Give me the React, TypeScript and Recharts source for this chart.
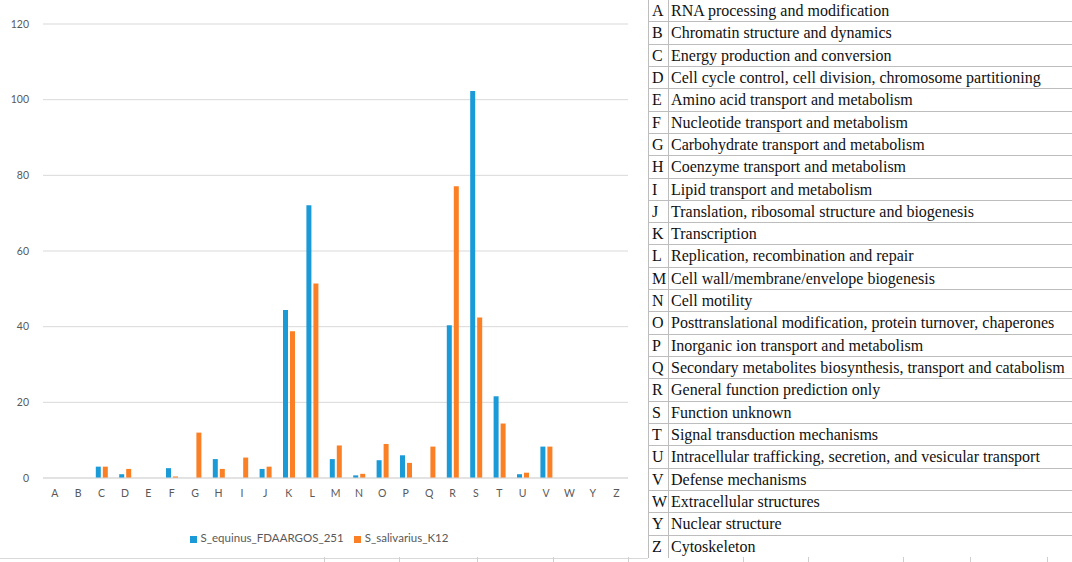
import React from 'react';
import { BarChart, Bar, XAxis, YAxis, CartesianGrid, Legend } from 'recharts';

const categories = ['A', 'B', 'C', 'D', 'E', 'F', 'G', 'H', 'I', 'J', 'K', 'L', 'M', 'N', 'O', 'P', 'Q', 'R', 'S', 'T', 'U', 'V', 'W', 'Y', 'Z'];
const equinus = [0, 0, 3, 1, 0, 2.6, 0, 5, 0, 2.4, 44.4, 72.1, 5, 0.7, 4.7, 6, 0, 40.4, 102.3, 21.6, 1, 8.3, 0, 0, 0];
const salivarius = [0, 0, 3, 2.4, 0, 0.4, 12, 2.4, 5.4, 3, 38.8, 51.4, 8.6, 1.1, 9, 4, 8.3, 77.1, 42.4, 14.4, 1.4, 8.3, 0, 0, 0];
const yTicks = [0, 20, 40, 60, 80, 100, 120];

const descriptions = [
  'RNA processing and modification',
  'Chromatin structure and dynamics',
  'Energy production and conversion',
  'Cell cycle control, cell division, chromosome partitioning',
  'Amino acid transport and metabolism',
  'Nucleotide transport and metabolism',
  'Carbohydrate transport and metabolism',
  'Coenzyme transport and metabolism',
  'Lipid transport and metabolism',
  'Translation, ribosomal structure and biogenesis',
  'Transcription',
  'Replication, recombination and repair',
  'Cell wall/membrane/envelope biogenesis',
  'Cell motility',
  'Posttranslational modification, protein turnover, chaperones',
  'Inorganic ion transport and metabolism',
  'Secondary metabolites biosynthesis, transport and catabolism',
  'General function prediction only',
  'Function unknown',
  'Signal transduction mechanisms',
  'Intracellular trafficking, secretion, and vesicular transport',
  'Defense mechanisms',
  'Extracellular structures',
  'Nuclear structure',
  'Cytoskeleton',
];

// little page-border marks along the bottom edge
const bottomMarks = [324, 399, 477, 553, 628, 743, 808, 903, 970, 1047];

const data = categories.map((c, i) => ({
  cat: c,
  S_equinus_FDAARGOS_251: equinus[i],
  S_salivarius_K12: salivarius[i],
}));

const BLUE = '#1b9ad8';
const ORANGE = '#fb7f24';
const GRID = '#d9d9d9';
const TEXT = '#595959';
const ROW_H = 558 / 25;

export default function App() {
  return (
    <div style={{ position: 'absolute', left: 0, top: 0, width: 1072, height: 562, background: '#fff', overflow: 'hidden' }}>
      <div style={{ position: 'absolute', left: 0, top: 0 }}>
        <BarChart
          width={648}
          height={562}
          data={data}
          margin={{ top: 24, right: 20, left: 0, bottom: 41 }}
          barSize={5}
          barGap={2}
        >
          <CartesianGrid vertical={false} stroke={GRID} />
          <XAxis
            dataKey="cat"
            interval={0}
            tickLine={false}
            axisLine={{ stroke: GRID }}
            tick={{ fontSize: 10.5, fill: TEXT, fontFamily: 'Lato' }}
            tickMargin={6}
            height={30}
          />
          <YAxis
            domain={[0, 120]}
            ticks={yTicks}
            width={43}
            axisLine={false}
            tickLine={false}
            tickMargin={8}
            tick={{ fontSize: 10.5, fill: TEXT, fontFamily: 'Lato' }}
          />
          <Legend
            verticalAlign="bottom"
            iconType="square"
            iconSize={7}
            wrapperStyle={{ bottom: 18, left: 0, width: 648, fontSize: 11.5, fontFamily: 'Lato' }}
            formatter={(v) => <span style={{ color: TEXT }}>{v}</span>}
          />
          <Bar dataKey="S_equinus_FDAARGOS_251" fill={BLUE} isAnimationActive={false} />
          <Bar dataKey="S_salivarius_K12" fill={ORANGE} isAnimationActive={false} />
        </BarChart>
      </div>
      <div style={{ position: 'absolute', left: 0, top: 558, width: 648, height: 1, background: GRID }} />
      {bottomMarks.map((x) => (
        <div key={x} style={{ position: 'absolute', left: x, top: 557, width: 1, height: 5, background: '#cfcfcf' }} />
      ))}
      <div
        style={{
          position: 'absolute',
          left: 648,
          top: 0,
          width: 424,
          borderLeft: '1px solid #bdbdbd',
          fontFamily: '"Liberation Serif", serif',
          fontSize: 16,
          color: '#111',
        }}
      >
        {categories.map((c, i) => (
          <div
            key={c}
            style={{
              display: 'flex',
              height: ROW_H,
              lineHeight: `${ROW_H}px`,
              boxSizing: 'border-box',
              borderBottom: i < categories.length - 1 ? '1px solid #bdbdbd' : 'none',
              whiteSpace: 'nowrap',
            }}
          >
            <div style={{ width: 16, paddingLeft: 3, borderRight: '1px solid #bdbdbd', overflow: 'visible' }}>{c}</div>
            <div style={{ paddingLeft: 2 }}>{descriptions[i]}</div>
          </div>
        ))}
      </div>
    </div>
  );
}
